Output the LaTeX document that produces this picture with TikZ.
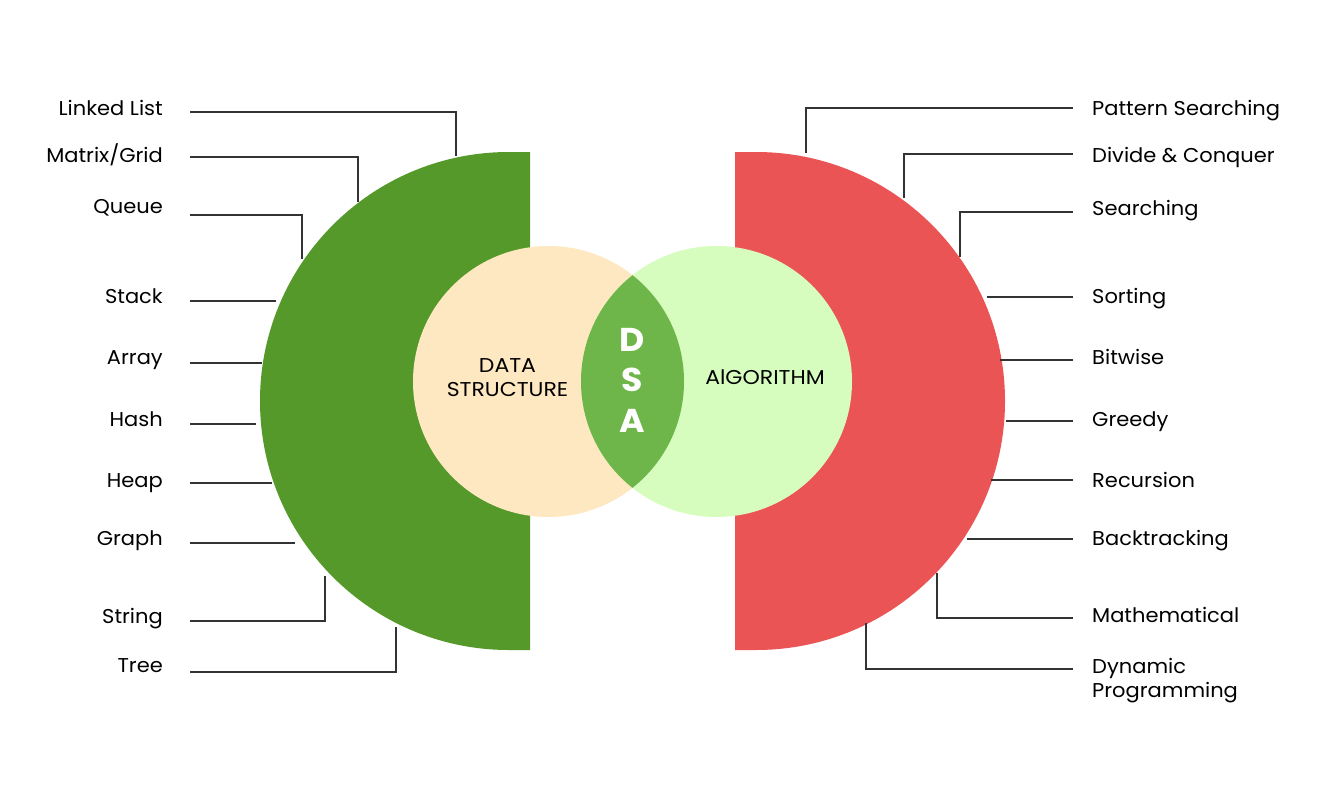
\documentclass[tikz,border=0pt]{standalone}
\usepackage{fontspec}
\setmainfont{Poppins}[FakeStretch=1.05]
\newfontfamily\centerfont{Poppins}[FakeStretch=1.1]
\definecolor{dsgreen}{HTML}{55992B}
\definecolor{algred}{HTML}{EB5454}
\definecolor{beige}{HTML}{FDE8C1}
\definecolor{lightgreen}{HTML}{D7FDBE}
\definecolor{lensgreen}{HTML}{6FB64A}
\definecolor{linecol}{HTML}{333333}
\tikzset{
  lbl/.style={inner sep=0pt, font=\fontsize{20}{24}\selectfont, text=black},
  lbll/.style={lbl, anchor=base east},
  lblr/.style={lbl, anchor=base west, align=left},
  conn/.style={draw=linecol, line width=1.4pt},
  ctext/.style={inner sep=0pt, font=\centerfont\fontsize{20}{24}\selectfont, align=center, text=black},
  dsa/.style={inner sep=0pt, font=\fontsize{33}{33}\selectfont\bfseries, text=white, anchor=base}
}
\begin{document}
\begin{tikzpicture}[x=1pt,y=1pt]
\useasboundingbox (0,0) rectangle (1325,-800);
\fill[white] (0,0) rectangle (1325,-800);
% big shapes
\fill[dsgreen] (530,-152) -- (509,-152) arc[start angle=90, end angle=270, radius=249] -- (530,-650) -- cycle;
\fill[algred] (735,-152) -- (756,-152) arc[start angle=90, end angle=-90, radius=249] -- (735,-650) -- cycle;
% circles
\fill[beige] (548.5,-381.5) circle[radius=135.5];
\fill[lightgreen] (716.5,-381.5) circle[radius=135.5];
\begin{scope}
  \clip (548.5,-381.5) circle[radius=135.5];
  \fill[lensgreen] (716.5,-381.5) circle[radius=135.5];
\end{scope}
% center texts
\node[ctext] (ds) at (507.5,-378) {DATA\\STRUCTURE};
\node[ctext, anchor=base] (alg) at (765,-384) {AlGORITHM};
\node[dsa] (d) at (632,-351) {D};
\node[dsa] (s) at (632,-391) {S};
\node[dsa] (a) at (632,-432) {A};
% left labels
\node[lbll] (ll) at (163,-115) {Linked List};
\node[lbll] (mg) at (163,-162) {Matrix/Grid};
\node[lbll] (qu) at (163,-213) {Queue};
\node[lbll] (st) at (163,-303) {Stack};
\node[lbll] (ar) at (163,-364) {Array};
\node[lbll] (ha) at (163,-426) {Hash};
\node[lbll] (he) at (163,-487) {Heap};
\node[lbll] (gr) at (163,-545) {Graph};
\node[lbll] (sg) at (163,-623) {String};
\node[lbll] (tr) at (163,-672) {Tree};
% right labels
\node[lblr] (ps) at (1092,-115) {Pattern Searching};
\node[lblr] (dc) at (1092,-162) {Divide \& Conquer};
\node[lblr] (se) at (1092,-215) {Searching};
\node[lblr] (so) at (1092,-303) {Sorting};
\node[lblr] (bw) at (1092,-364) {Bitwise};
\node[lblr] (gy) at (1092,-426) {Greedy};
\node[lblr] (rc) at (1092,-487) {Recursion};
\node[lblr] (bt) at (1092,-545) {Backtracking};
\node[lblr] (ma) at (1092,-622) {Mathematical};
\node[lblr, anchor=north west] (dp) at (1092,-658) {Dynamic\\Programming};
% connector end points (left)
\coordinate (ll-s) at (190,-112); \coordinate (ll-e) at (456,-156);
\coordinate (mg-s) at (190,-157); \coordinate (mg-e) at (358,-202);
\coordinate (qu-s) at (190,-215); \coordinate (qu-e) at (302,-259);
\coordinate (st-s) at (190,-301); \coordinate (st-e) at (276,-301);
\coordinate (ar-s) at (190,-363); \coordinate (ar-e) at (262,-363);
\coordinate (ha-s) at (190,-424); \coordinate (ha-e) at (256,-424);
\coordinate (he-s) at (190,-483); \coordinate (he-e) at (272,-483);
\coordinate (gr-s) at (190,-543); \coordinate (gr-e) at (295,-543);
\coordinate (sg-s) at (190,-621); \coordinate (sg-e) at (325,-576);
\coordinate (tr-s) at (190,-672); \coordinate (tr-e) at (396,-627);
% connector end points (right)
\coordinate (ps-s) at (1073,-108); \coordinate (ps-e) at (806,-153);
\coordinate (dc-s) at (1073,-154); \coordinate (dc-e) at (904,-198);
\coordinate (se-s) at (1073,-212); \coordinate (se-e) at (960,-257);
\coordinate (so-s) at (1073,-297); \coordinate (so-e) at (987,-297);
\coordinate (bw-s) at (1073,-360); \coordinate (bw-e) at (1000,-360);
\coordinate (gy-s) at (1073,-421); \coordinate (gy-e) at (1006,-421);
\coordinate (rc-s) at (1073,-480); \coordinate (rc-e) at (991,-480);
\coordinate (bt-s) at (1073,-539); \coordinate (bt-e) at (967,-539);
\coordinate (ma-s) at (1073,-618); \coordinate (ma-e) at (937,-573);
\coordinate (dp-s) at (1073,-669); \coordinate (dp-e) at (866,-623);
% connectors
\foreach \k in {ll,mg,qu,sg,tr,ps,dc,se,ma,dp} {\draw[conn] (\k-s) -| (\k-e);}
\foreach \k in {st,ar,ha,he,gr,so,bw,gy,rc,bt} {\draw[conn] (\k-s) -- (\k-e);}
\end{tikzpicture}
\end{document}
